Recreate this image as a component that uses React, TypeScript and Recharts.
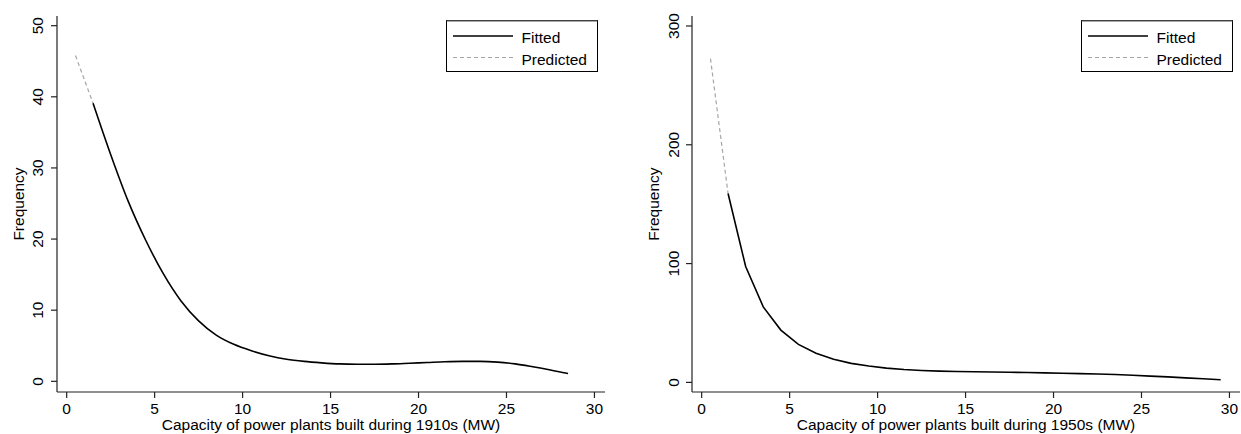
import React from "react";
import { LineChart, Line, XAxis, YAxis, Legend } from "recharts";

// ---------- Data ----------
// 1910s panel
const fitted1910X = [1.5, 2.5, 3.5, 4.5, 5.5, 6.5, 7.5, 8.5, 9.5, 10.5, 11.5, 12.5, 13.5, 14.5, 15.5, 16.5, 17.5, 18.5, 19.5, 20.5, 21.5, 22.5, 23.5, 24.5, 25.5, 26.5, 27.5, 28.5];
const fitted1910Y = [39.1, 31.9, 25.3, 19.8, 15.1, 11.3, 8.5, 6.5, 5.2, 4.3, 3.6, 3.1, 2.8, 2.6, 2.45, 2.4, 2.4, 2.45, 2.55, 2.65, 2.75, 2.8, 2.8, 2.7, 2.45, 2.05, 1.6, 1.1];
const predicted1910X = [0.5, 1.5];
const predicted1910Y = [45.8, 39.1];

// 1950s panel
const fitted1950X = [1.5, 2.5, 3.5, 4.5, 5.5, 6.5, 7.5, 8.5, 9.5, 10.5, 11.5, 12.5, 13.5, 14.5, 15.5, 16.5, 17.5, 18.5, 19.5, 20.5, 21.5, 22.5, 23.5, 24.5, 25.5, 26.5, 27.5, 28.5, 29.5];
const fitted1950Y = [159, 97.5, 63.5, 44, 32, 24.5, 19.5, 16, 13.8, 12, 10.8, 10, 9.5, 9.1, 8.9, 8.7, 8.5, 8.3, 8.0, 7.7, 7.4, 7.1, 6.6, 6.0, 5.3, 4.6, 3.8, 3.0, 2.2];
const predicted1950X = [0.5, 1.5];
const predicted1950Y = [272.5, 159];

// Ticks and labels
const xTicks = [0, 5, 10, 15, 20, 25, 30];
const yTicks1910 = [0, 10, 20, 30, 40, 50];
const yTicks1950 = [0, 100, 200, 300];
const xTitle1910 = "Capacity of power plants built during 1910s (MW)";
const xTitle1950 = "Capacity of power plants built during 1950s (MW)";
const yTitle = "Frequency";
const seriesNames = ["Fitted", "Predicted"];

const toPoints = (xs: number[], ys: number[]) => xs.map((x, i) => ({ x, y: ys[i] }));

const FONT = '"Liberation Sans", Arial, Helvetica, sans-serif';
const FS = 15.5;
const AXIS_COLOR = "#222";

function YTick(props: any) {
  const { x, y, payload, shift } = props;
  const bx = x - shift;
  return (
    <text
      x={bx}
      y={y}
      transform={`rotate(-90 ${bx} ${y})`}
      textAnchor="middle"
      fontSize={FS}
      fontFamily={FONT}
      fill="#000"
    >
      {payload.value}
    </text>
  );
}

function XTick(props: any) {
  const { x, y, payload } = props;
  return (
    <text x={x} y={y + 13.8} textAnchor="middle" fontSize={FS} fontFamily={FONT} fill="#000">
      {payload.value}
    </text>
  );
}

function XTitle(props: any) {
  const vb = props.viewBox || { x: 57, y: 392, width: 548, height: 42 };
  const cx = vb.x + vb.width / 2;
  return (
    <text x={cx} y={vb.y + 37.5} textAnchor="middle" fontSize={FS} fontFamily={FONT} fill="#000">
      {props.text}
    </text>
  );
}

function YTitle(props: any) {
  const vb = props.viewBox || { x: 0, y: 16, width: 57, height: 376 };
  const bx = vb.x + props.bx;
  const cy = vb.y + vb.height / 2;
  return (
    <text
      x={bx}
      y={cy}
      transform={`rotate(-90 ${bx} ${cy})`}
      textAnchor="middle"
      fontSize={FS}
      fontFamily={FONT}
      fill="#000"
    >
      {props.text}
    </text>
  );
}

function LegendBox() {
  return (
    <svg width={152} height={52} style={{ display: "block" }}>
      <rect x={0.5} y={0.5} width={151} height={51} fill="#fff" stroke="#000" strokeWidth={1} />
      <line x1={0.5} y1={0.8} x2={151.5} y2={0.8} stroke="#555" strokeWidth={1.2} />
      <line x1={7} y1={16} x2={67} y2={16} stroke="#000" strokeWidth={1.6} />
      <line x1={7} y1={37.5} x2={67} y2={37.5} stroke="#a6a6a6" strokeWidth={1.2} strokeDasharray="4 3" />
      <text x={75.5} y={22.9} fontSize={FS} fontFamily={FONT} fill="#000">{seriesNames[0]}</text>
      <text x={75.5} y={44.5} fontSize={FS} fontFamily={FONT} fill="#000">{seriesNames[1]}</text>
    </svg>
  );
}

type PanelProps = {
  fitted: { x: number; y: number }[];
  predicted: { x: number; y: number }[];
  yTicks: number[];
  yDomain: [number, number];
  yAxisWidth: number;
  width: number;
  rightMargin: number;
  tickShift: number;
  yTitleX: number;
  xTitle: string;
  legendLeft: number;
  curve: "monotone" | "linear";
};

function Panel(p: PanelProps) {
  return (
    <LineChart
      width={p.width}
      height={434}
      margin={{ top: 16, right: p.rightMargin, bottom: 0, left: 0 }}
      style={{ fontFamily: FONT }}
    >
      <XAxis
        type="number"
        dataKey="x"
        domain={[-0.55, 30.6]}
        ticks={xTicks}
        allowDataOverflow
        height={42}
        tickSize={6}
        tickMargin={2}
        axisLine={{ stroke: AXIS_COLOR, strokeWidth: 1.2 }}
        tickLine={{ stroke: AXIS_COLOR, strokeWidth: 1.2 }}
        tick={(t: any) => <XTick {...t} />}
        interval={0}
        label={<XTitle text={p.xTitle} />}
      />
      <YAxis
        type="number"
        dataKey="y"
        domain={p.yDomain}
        ticks={p.yTicks}
        allowDataOverflow
        width={p.yAxisWidth}
        tickSize={6}
        tickMargin={2}
        axisLine={{ stroke: AXIS_COLOR, strokeWidth: 1.2 }}
        tickLine={{ stroke: AXIS_COLOR, strokeWidth: 1.2 }}
        tick={(t: any) => <YTick {...t} shift={p.tickShift} />}
        interval={0}
        label={<YTitle text={yTitle} bx={p.yTitleX} />}
      />
      <Legend
        layout="vertical"
        align="center"
        verticalAlign="middle"
        content={() => <LegendBox />}
        wrapperStyle={{ position: "absolute", left: p.legendLeft, top: 20, width: 152, height: 52 }}
      />
      <Line
        data={p.predicted}
        dataKey="y"
        name={seriesNames[1]}
        type="linear"
        stroke="#a6a6a6"
        strokeWidth={1.2}
        strokeDasharray="4 3"
        dot={false}
        activeDot={false}
        isAnimationActive={false}
      />
      <Line
        data={p.fitted}
        dataKey="y"
        name={seriesNames[0]}
        type={p.curve}
        stroke="#000"
        strokeWidth={1.6}
        dot={false}
        activeDot={false}
        isAnimationActive={false}
      />
    </LineChart>
  );
}

export default function App() {
  return (
    <div style={{ position: "absolute", left: 0, top: 0, width: 1241, height: 434, background: "#fff" }}>
      <div style={{ position: "absolute", left: 0, top: 0 }}>
        <Panel
          fitted={toPoints(fitted1910X, fitted1910Y)}
          predicted={toPoints(predicted1910X, predicted1910Y)}
          yTicks={yTicks1910}
          yDomain={[-1.5, 51.36]}
          yAxisWidth={57}
          width={620}
          rightMargin={15}
          tickShift={5.7}
          yTitleX={23.5}
          xTitle={xTitle1910}
          legendLeft={446}
          curve="monotone"
        />
      </div>
      <div style={{ position: "absolute", left: 620, top: 0 }}>
        <Panel
          fitted={toPoints(fitted1950X, fitted1950Y)}
          predicted={toPoints(predicted1950X, predicted1950Y)}
          yTicks={yTicks1950}
          yDomain={[-8.1, 308.4]}
          yAxisWidth={72}
          width={621}
          rightMargin={1}
          tickShift={4.5}
          yTitleX={39}
          xTitle={xTitle1950}
          legendLeft={461}
          curve="linear"
        />
      </div>
    </div>
  );
}
